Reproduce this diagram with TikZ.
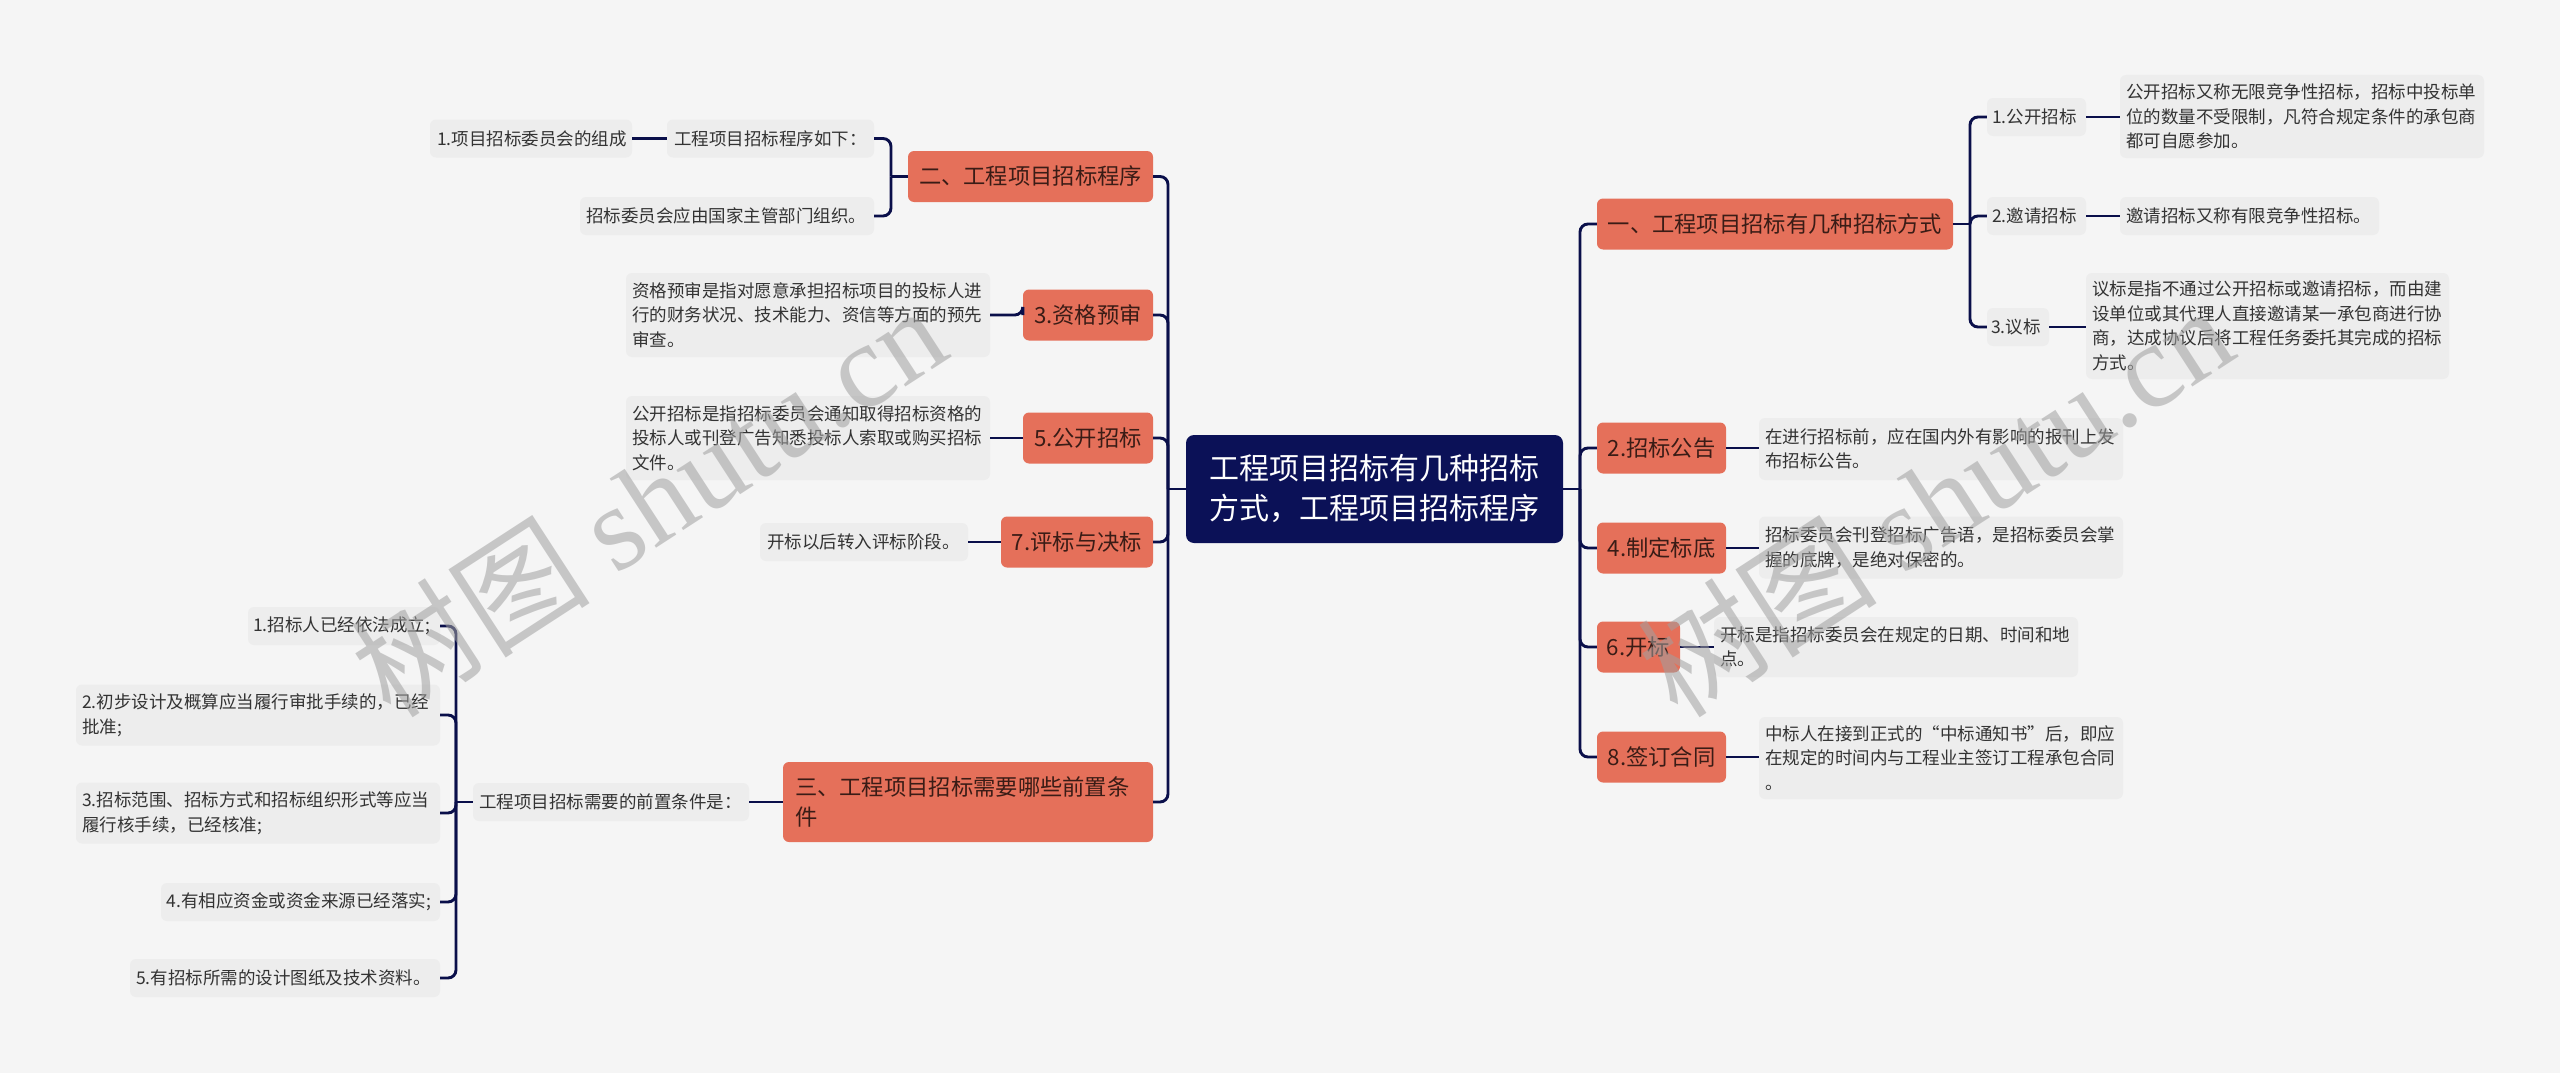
\documentclass[tikz,border=0pt]{standalone}
\usepackage{fontspec}
\setmainfont{Noto Sans CJK SC}
\newfontfamily\wmlatin{Liberation Serif}
\definecolor{bgc}{HTML}{F5F5F5}
\definecolor{leafc}{HTML}{EDEDED}
\definecolor{orangec}{HTML}{E5705A}
\definecolor{navyc}{HTML}{0B1157}
\definecolor{linec}{HTML}{0A0F4A}
\definecolor{txtc}{HTML}{333333}
\definecolor{otxt}{HTML}{3A1C16}
\definecolor{wmc}{HTML}{A0A0A0}
\begin{document}
\begin{tikzpicture}[x=1pt,y=-1pt,
  conn/.style={draw=linec,line width=2.9pt,rounded corners=8pt},
  leaf/.style={fill=leafc,rounded corners=6pt,inner sep=0pt,text=txtc,font=\fontsize{17.5}{24.5}\selectfont,align=left},
  topic/.style={fill=orangec,rounded corners=6pt,inner sep=0pt,text=otxt,font=\fontsize{22.3}{30}\selectfont,align=center,minimum height=51pt},
  rootbox/.style={fill=navyc,rounded corners=8pt,inner sep=0pt,text=white,font=\fontsize{30}{40}\selectfont,align=center},
  wm/.style={text=wmc,opacity=0.55,rotate=33,font=\fontsize{120}{120}\selectfont,inner sep=0pt}
]
\fill[bgc] (0,0) rectangle (2560,1073);
\useasboundingbox (0,0) rectangle (2560,1073);

% root
\node[rootbox,minimum width=377pt,minimum height=108pt] (root) at (1374.5,489) {工程项目招标有几种招标\\方式，工程项目招标程序};

% left topics
\node[topic,minimum width=245pt] (n2) at (1030.5,176.5) {二、工程项目招标程序};
\node[topic,minimum width=130pt] (n3a) at (1088,315) {3.资格预审};
\node[topic,minimum width=130pt] (n5) at (1088,438) {5.公开招标};
\node[topic,minimum width=152pt] (n7) at (1077,542) {7.评标与决标};
\node[topic,minimum width=370pt,minimum height=80pt,text width=346pt,align=left] (n3) at (968,802) {三、工程项目招标需要哪些前置条\\件};

% right topics
\node[topic,minimum width=356pt] (r1) at (1775,224) {一、工程项目招标有几种招标方式};
\node[topic,minimum width=129pt] (r2) at (1661.5,448) {2.招标公告};
\node[topic,minimum width=129pt] (r4) at (1661.5,548) {4.制定标底};
\node[topic,minimum width=83pt] (r6) at (1638.5,647) {6.开标};
\node[topic,minimum width=129pt] (r8) at (1661.5,757) {8.签订合同};

% left leaves
\node[leaf,minimum width=207pt,minimum height=38pt,text width=193pt] (A) at (770.5,138.5) {工程项目招标程序如下：};
\node[leaf,minimum width=202pt,minimum height=38pt,text width=188pt] (B) at (531,138.5) {1.项目招标委员会的组成};
\node[leaf,minimum width=294pt,minimum height=38pt,text width=282pt] (C) at (727,216) {招标委员会应由国家主管部门组织。};
\node[leaf,minimum width=364pt,minimum height=84pt,text width=352pt] (D) at (808,315) {资格预审是指对愿意承担招标项目的投标人进\\行的财务状况、技术能力、资信等方面的预先\\审查。};
\node[leaf,minimum width=364pt,minimum height=84pt,text width=352pt] (E) at (808,438) {公开招标是指招标委员会通知取得招标资格的\\投标人或刊登广告知悉投标人索取或购买招标\\文件。};
\node[leaf,minimum width=208pt,minimum height=38pt,text width=194pt] (F) at (864,542) {开标以后转入评标阶段。};
\node[leaf,minimum width=276pt,minimum height=38pt,text width=264pt] (G) at (611,802) {工程项目招标需要的前置条件是：};
\node[leaf,minimum width=192pt,minimum height=38pt,text width=182pt] (I1) at (344,626) {1.招标人已经依法成立;};
\node[leaf,minimum width=364pt,minimum height=61pt,text width=352pt] (I2) at (258,715) {2.初步设计及概算应当履行审批手续的，已经\\批准;};
\node[leaf,minimum width=364pt,minimum height=61pt,text width=352pt] (I3) at (258,813) {3.招标范围、招标方式和招标组织形式等应当\\履行核手续，已经核准;};
\node[leaf,minimum width=279pt,minimum height=38pt,text width=268pt] (I4) at (300.5,902) {4.有相应资金或资金来源已经落实;};
\node[leaf,minimum width=310pt,minimum height=38pt,text width=298pt] (I5) at (285,978) {5.有招标所需的设计图纸及技术资料。};

% right leaves
\node[leaf,minimum width=99pt,minimum height=38pt,text width=89pt] (p1) at (2036.5,117) {1.公开招标};
\node[leaf,minimum width=99pt,minimum height=38pt,text width=89pt] (p2) at (2036.5,216) {2.邀请招标};
\node[leaf,minimum width=62pt,minimum height=38pt,text width=54pt] (p3) at (2018,327) {3.议标};
\node[leaf,minimum width=364pt,minimum height=83pt,text width=352pt] (q1) at (2302,116.5) {公开招标又称无限竞争性招标，招标中投标单\\位的数量不受限制，凡符合规定条件的承包商\\都可自愿参加。};
\node[leaf,minimum width=259pt,minimum height=38pt,text width=247pt] (q2) at (2249.5,216) {邀请招标又称有限竞争性招标。};
\node[leaf,minimum width=363pt,minimum height=106pt,text width=351pt] (q3) at (2267.5,326) {议标是指不通过公开招标或邀请招标，而由建\\设单位或其代理人直接邀请某一承包商进行协\\商，达成协议后将工程任务委托其完成的招标\\方式。};
\node[leaf,minimum width=364pt,minimum height=62pt,text width=352pt] (s2) at (1941,449) {在进行招标前，应在国内外有影响的报刊上发\\布招标公告。};
\node[leaf,minimum width=364pt,minimum height=62pt,text width=352pt] (s4) at (1941,547.5) {招标委员会刊登招标广告语，是招标委员会掌\\握的底牌，是绝对保密的。};
\node[leaf,minimum width=364pt,minimum height=60pt,text width=352pt] (s6) at (1896,647) {开标是指招标委员会在规定的日期、时间和地\\点。};
\node[leaf,minimum width=364pt,minimum height=82pt,text width=352pt] (s8) at (1941,758) {中标人在接到正式的“中标通知书”后，即应\\在规定的时间内与工程业主签订工程承包合同\\。};

% trunk connectors
\coordinate (lt) at (1168,489);
\coordinate (rt) at (1580,489);
\draw[conn] (root.west) -- (lt);
\draw[conn] (root.east) -- (rt);
\foreach \n in {n2,n3a,n5,n7,n3} \draw[conn] (lt) |- (\n.east);
\foreach \n in {r1,r2,r4,r6,r8} \draw[conn] (rt) |- (\n.west);

% second level left
\coordinate (b2) at (891,176.5);
\draw[conn] (n2.west) -- (b2);
\draw[conn] (b2) |- (A.east);
\draw[conn] (b2) |- (C.east);
\draw[conn] (A.west) -- (B.east);
\draw[conn] (n3a.west) -- (D.east -| n3a.west) -- (D.east);
\draw[conn] (n5.west) -- (E.east);
\draw[conn] (n7.west) -- (F.east);
\draw[conn] (n3.west) -- (G.east);
\coordinate (bg) at (456,802);
\draw[conn] (G.west) -- (bg);
\foreach \n in {I1,I2,I3,I4,I5} \draw[conn] (bg) |- (\n.east);

% second level right
\coordinate (b1) at (1970,224);
\draw[conn] (r1.east) -- (b1);
\foreach \n in {p1,p2,p3} \draw[conn] (b1) |- (\n.west);
\draw[conn] (p1.east) -- (q1.west |- p1.east);
\draw[conn] (p2.east) -- (q2.west);
\draw[conn] (p3.east) -- (q3.west |- p3.east);
\draw[conn] (r2.east) -- (s2.west |- r2.east);
\draw[conn] (r4.east) -- (s4.west |- r4.east);
\draw[conn] (r6.east) -- (s6.west |- r6.east);
\draw[conn] (r8.east) -- (s8.west |- r8.east);

% watermarks
\node[wm] (wm1) at (648,500) {树图 {\wmlatin shutu.cn}};
\node[wm] (wm2) at (1935,500) {树图 {\wmlatin shutu.cn}};
\end{tikzpicture}
\end{document}
